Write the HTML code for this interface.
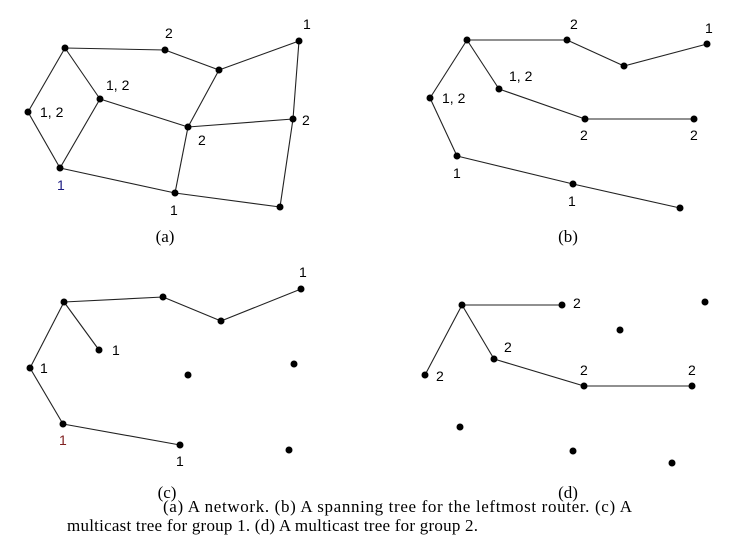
<!DOCTYPE html>
<html><head><meta charset="utf-8"><style>
body{margin:0;background:#fff;width:735px;height:540px;overflow:hidden}
svg{display:block}
.lbl{font-family:"Liberation Sans",sans-serif;font-size:14px;fill:#000}
.cap{font-family:"Liberation Serif",serif;font-size:17px;fill:#000}
</style></head><body>
<svg id="chart" width="735" height="540"></svg>
<script>
const panelNames = ['a','b','c','d'];
const nodesA = [[65,48],[165,50],[219,70],[299,41],[28,112],[100,99],[188,127],[293,119],[60,168],[175,193],[280,207]];
const nodesB = [[467,40],[567,40],[624,66],[707,44],[430,98],[499,89],[585,119],[694,119],[457,156],[573,184],[680,208]];
const nodesC = [[64,302],[163,297],[221,321],[301,289],[30,368],[99,350],[188,375],[294,364],[63,424],[180,445],[289,450]];
const nodesD = [[462,305],[562,305],[620,330],[705,302],[425,375],[494,359],[584,386],[692,386],[460,427],[573,451],[672,463]];
const edgesA = [[0,1],[1,2],[2,3],[0,4],[0,5],[4,8],[5,8],[5,6],[2,6],[6,7],[3,7],[7,10],[6,9],[8,9],[9,10]];
const edgesB = [[0,1],[1,2],[2,3],[0,4],[0,5],[5,6],[6,7],[4,8],[8,9],[9,10]];
const edgesC = [[0,1],[1,2],[2,3],[0,4],[0,5],[4,8],[8,9]];
const edgesD = [[0,1],[0,4],[0,5],[5,6],[6,7]];
const labelsA = [[1,'2',165,38],[3,'1',303,29],[4,'1, 2',40,117],[5,'1, 2',106,90],[6,'2',198,145],[7,'2',302,125],[8,'1',57,190],[9,'1',170,215]];
const labelsB = [[1,'2',570,29],[3,'1',705,33],[4,'1, 2',442,103],[5,'1, 2',509,81],[6,'2',580,140],[7,'2',690,140],[8,'1',453,178],[9,'1',568,206]];
const labelsC = [[3,'1',299,277],[5,'1',112,355],[4,'1',40,373],[8,'1',59,445],[9,'1',176,466]];
const labelsD = [[1,'2',573,308],[4,'2',436,381],[5,'2',504,352],[6,'2',580,375],[7,'2',688,375]];
const labelColors = {a8:'#1a1a80',c8:'#802020'};
const captions = [['(a)',165,242],['(b)',568,242],['(c)',167,498],['(d)',568,498]];
const NS='http://www.w3.org/2000/svg';
const svg=document.getElementById('chart');
function mk(t,a){const e=document.createElementNS(NS,t);for(const k in a)e.setAttribute(k,a[k]);svg.appendChild(e);return e;}
const panels=[[nodesA,edgesA,labelsA],[nodesB,edgesB,labelsB],[nodesC,edgesC,labelsC],[nodesD,edgesD,labelsD]];
panels.forEach((p,pi)=>{
  const [nodes,edges,labels]=p;const pn=panelNames[pi];
  edges.forEach(([s,t])=>{
    const l=mk('line',{x1:nodes[s][0],y1:nodes[s][1],x2:nodes[t][0],y2:nodes[t][1],stroke:'#222','stroke-width':1.1});
    
    
  });
  nodes.forEach((n,i)=>{
    const c=mk('circle',{cx:n[0],cy:n[1],r:3.5,fill:'#000'});
    
    
  });
  labels.forEach(([i,txt,x,y])=>{
    const t=mk('text',{x:x,y:y,class:'lbl'});
    t.style.fill=labelColors[pn+i]||'#000';
    t.textContent=txt;
    
    
  });
});
captions.forEach(([txt,x,y])=>{
  const t=mk('text',{x:x,y:y,class:'cap','text-anchor':'middle','font-size':'15'});
  t.textContent=txt;
  
  
});
const c1=mk('text',{x:163,y:512,class:'cap',textLength:469,lengthAdjust:'spacing'});
c1.textContent='(a) A network. (b) A spanning tree for the leftmost router. (c) A';


const c2=mk('text',{x:67,y:531,class:'cap',textLength:411,lengthAdjust:'spacing'});
c2.textContent='multicast tree for group 1. (d) A multicast tree for group 2.';


</script>
</body></html>
